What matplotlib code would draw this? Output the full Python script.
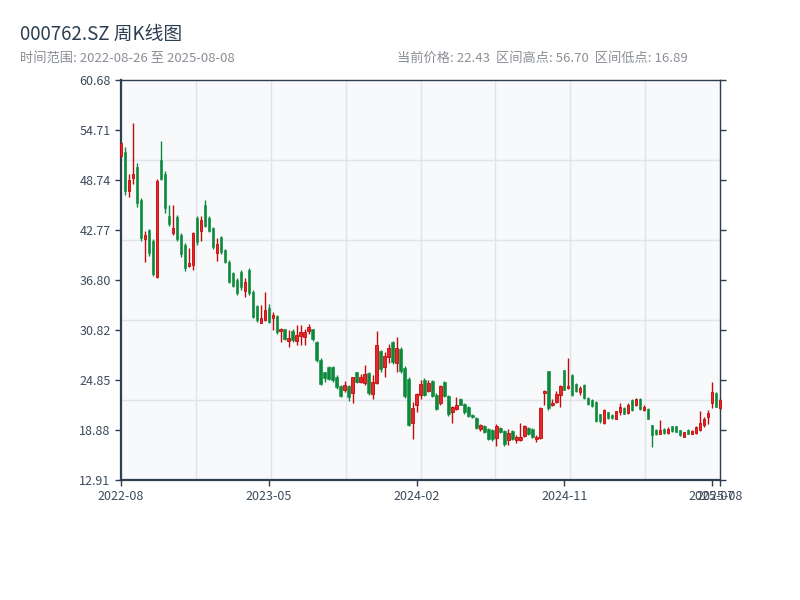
import matplotlib
matplotlib.use('Agg')
import matplotlib.pyplot as plt
import numpy as np
import pandas as pd

plt.rcParams['font.family'] = ['Noto Sans CJK SC', 'DejaVu Sans']

code = '000762.SZ'
start_date = '2022-08-26'
end_date = '2025-08-08'
last_price = 22.43
range_high = 56.70
range_low = 16.89

# weekly bars on Fridays; holiday weeks have no bar
holiday_weeks = ['2022-10-07', '2023-01-27', '2023-10-06', '2024-02-16']
weeks = pd.date_range(start_date, end_date, freq='W-FRI')
weeks = weeks[~weeks.isin(pd.to_datetime(holiday_weeks))]

opens = [51.6, 52.1, 47.4, 49.0, 50.3, 46.4, 41.7, 42.8, 41.5, 37.2,
         51.1, 49.5, 44.4, 42.4, 44.3, 42.2, 41.0, 38.5, 38.6, 44.2,
         42.7, 45.8, 44.2, 43.0, 40.0, 41.9, 40.4, 39.0, 37.6, 36.8,
         37.8, 35.5, 38.0, 35.4, 33.7, 31.7, 32.0, 33.5, 32.2, 32.5,
         30.7, 30.9, 29.55, 30.7, 29.55, 30.1, 30.0, 30.7, 30.9, 29.4,
         27.3, 25.8, 26.4, 26.4, 25.2, 24.1, 23.65, 24.1, 23.25, 25.8,
         24.6, 24.5, 25.7, 23.2, 24.45, 28.3, 26.35, 27.55, 29.4, 26.85,
         28.6, 26.3, 25.0, 19.7, 21.85, 23.05, 24.9, 23.55, 24.7, 23.1,
         22.05, 24.6, 22.9, 21.05, 21.35, 22.6, 22.0, 21.65, 20.7, 20.35,
         19.0, 19.4, 19.0, 18.9, 17.9, 19.15, 18.8, 17.7, 18.8, 17.7,
         17.7, 18.15, 19.1, 19.0, 17.75, 17.9, 23.25, 25.9, 21.85, 22.2,
         23.05, 26.0, 23.85, 25.4, 24.4, 23.45, 24.25, 22.7, 22.45, 22.25,
         20.75, 19.7, 21.0, 20.7, 20.25, 21.05, 21.55, 20.9, 22.5, 21.9,
         22.6, 21.25, 21.4, 19.45, 18.9, 18.4, 19.05, 18.5, 19.3, 19.3,
         18.85, 18.1, 18.9, 18.4, 18.5, 18.9, 19.5, 20.45, 22.05, 23.25,
         21.55]
highs = [53.3, 52.7, 49.5, 55.5, 50.8, 46.6, 42.6, 42.9, 41.7, 48.8,
         53.4, 49.8, 45.7, 45.8, 44.6, 42.4, 41.2, 40.6, 42.5, 44.4,
         44.4, 46.3, 44.4, 43.1, 41.8, 42.0, 40.5, 39.2, 37.7, 37.0,
         38.0, 37.0, 38.2, 35.6, 33.8, 33.8, 35.4, 33.9, 33.0, 32.6,
         31.1, 31.0, 30.8, 30.9, 31.4, 31.4, 31.0, 31.5, 31.0, 29.55,
         27.45, 25.85, 26.5, 26.5, 25.4, 24.25, 24.7, 24.25, 25.25, 25.85,
         25.6, 26.6, 25.85, 25.45, 30.7, 28.4, 28.2, 29.1, 29.55, 29.95,
         28.75, 26.5, 25.2, 22.2, 23.25, 24.85, 25.05, 24.85, 24.85, 23.25,
         24.25, 24.75, 23.05, 21.75, 22.85, 22.7, 22.1, 21.75, 20.75, 20.4,
         19.6, 19.5, 19.1, 19.0, 19.6, 19.2, 18.9, 19.0, 18.9, 18.3,
         19.7, 19.5, 19.2, 19.1, 18.3, 21.6, 23.65, 25.95, 22.55, 23.55,
         24.25, 26.1, 27.5, 25.55, 24.5, 24.15, 24.4, 22.8, 22.55, 22.35,
         20.85, 21.4, 21.05, 20.75, 21.2, 22.05, 21.6, 22.05, 22.55, 22.65,
         22.65, 21.85, 21.45, 19.5, 18.95, 20.05, 19.1, 19.2, 19.35, 19.35,
         18.9, 18.7, 18.95, 18.9, 19.35, 21.2, 20.45, 21.25, 24.65, 23.4,
         22.65]
lows = [51.5, 47.0, 46.7, 48.3, 45.5, 41.5, 39.0, 39.7, 37.3, 37.0,
        48.7, 44.8, 43.3, 42.2, 41.4, 39.6, 37.9, 38.3, 38.0, 41.0,
        41.4, 43.1, 42.5, 40.5, 39.1, 39.9, 38.8, 36.4, 35.9, 35.0,
        35.6, 34.8, 35.0, 32.2, 31.8, 31.6, 31.9, 31.6, 30.8, 30.4,
        29.4, 29.6, 28.8, 29.4, 29.0, 29.0, 29.0, 30.4, 29.55, 27.0,
        24.25, 24.65, 24.85, 24.65, 23.8, 22.85, 23.4, 22.3, 22.05, 24.5,
        24.5, 24.2, 23.05, 22.6, 24.4, 25.85, 25.25, 26.85, 26.8, 25.8,
        25.7, 22.75, 19.3, 17.85, 21.05, 22.6, 22.95, 23.45, 22.85, 21.25,
        21.85, 22.8, 20.6, 19.75, 21.3, 21.85, 20.85, 20.45, 20.35, 19.0,
        18.8, 18.55, 17.7, 17.6, 16.95, 18.55, 17.0, 17.1, 17.7, 17.35,
        17.6, 18.05, 18.3, 17.9, 17.5, 17.8, 21.85, 21.3, 21.8, 22.05,
        21.65, 23.6, 23.8, 22.95, 23.45, 23.05, 22.6, 21.85, 21.6, 19.85,
        19.75, 19.6, 20.25, 20.2, 20.2, 20.65, 20.75, 20.8, 21.2, 21.75,
        21.25, 21.2, 20.15, 16.9, 18.25, 18.35, 18.4, 18.4, 18.7, 18.6,
        18.2, 18.0, 18.35, 18.35, 18.4, 18.8, 19.2, 19.6, 21.45, 21.6,
        21.3]
closes = [53.1, 47.4, 48.7, 49.4, 46.0, 41.8, 42.2, 40.0, 37.5, 48.6,
          48.8, 45.4, 43.5, 43.0, 41.7, 39.9, 38.2, 38.8, 42.4, 41.3,
          44.0, 43.3, 42.6, 40.7, 41.1, 40.1, 39.0, 36.6, 36.1, 35.2,
          35.9, 36.6, 35.3, 32.4, 32.0, 32.3, 33.2, 31.8, 32.6, 30.6,
          31.0, 29.7, 29.85, 29.6, 30.2, 30.6, 30.6, 31.2, 29.7, 27.2,
          24.4, 25.1, 25.0, 24.8, 24.0, 23.0, 24.25, 22.8, 25.2, 24.6,
          25.2, 25.6, 23.3, 24.65, 29.0, 26.2, 27.7, 28.65, 27.0, 28.65,
          25.9, 23.0, 19.5, 21.45, 23.15, 24.4, 23.1, 24.5, 23.0, 21.4,
          24.15, 22.9, 20.8, 21.6, 21.85, 21.9, 21.0, 20.6, 20.4, 19.1,
          19.5, 18.65, 17.85, 17.75, 19.3, 18.65, 17.2, 18.5, 17.8, 18.1,
          18.1, 19.3, 18.4, 18.0, 18.1, 21.45, 23.55, 21.5, 22.15, 23.2,
          24.15, 23.7, 24.15, 23.1, 23.55, 23.85, 22.7, 21.95, 21.7, 20.0,
          19.9, 21.25, 20.35, 20.3, 21.15, 21.6, 20.85, 21.85, 21.3, 22.6,
          21.35, 21.6, 20.25, 18.3, 18.35, 18.85, 18.5, 19.05, 18.8, 18.7,
          18.3, 18.6, 18.45, 18.8, 19.2, 19.7, 20.25, 20.95, 23.45, 21.65,
          22.43]

o = np.array(opens)
h = np.array(highs)
l = np.array(lows)
c = np.array(closes)
n = len(o)
x = np.arange(n)

up_fill, up_edge = '#e8262a', '#c40a0a'
down_fill = '#0b8a3b'
dark = '#2d3e50'

fig = plt.figure(figsize=(8, 6), dpi=100)
ax = fig.add_axes([0.15125, 0.2, 0.74875, 0.66667])
ax.set_facecolor('#f7f9fb')

pad = (range_high - range_low) * 0.1
ymin, ymax = range_low - pad, range_high + pad
ax.set_ylim(ymin, ymax)
ax.set_xlim(0, n - 1)

# light grid in equal parts of the plot area
for f in [0.2, 0.4, 0.6, 0.8]:
    ax.plot([0, 1], [f, f], transform=ax.transAxes, color='#e1e5eb', lw=1, zorder=0)
for f in np.arange(1, 8) / 8:
    ax.plot([f, f], [0, 1], transform=ax.transAxes, color='#e1e5eb', lw=1, zorder=0)

up = c >= o
wick_colors = np.where(up, up_edge, down_fill)
ax.vlines(x, l, h, colors=wick_colors, linewidth=1.0, zorder=2, clip_on=False)
bottoms = np.minimum(o, c)
heights = np.maximum(np.abs(c - o), 0.08)
ax.bar(x[up], heights[up], bottom=bottoms[up], width=0.62, color=up_fill,
       edgecolor=up_edge, linewidth=0.6, zorder=3, clip_on=False)
ax.bar(x[~up], heights[~up], bottom=bottoms[~up], width=0.62, color=down_fill,
       edgecolor=down_fill, linewidth=0.4, zorder=3, clip_on=False)

yt = np.linspace(ymin, ymax, 9)
ax.set_yticks(yt)
ax.set_yticklabels([f'{v + 1e-9:.2f}' for v in yt])

xt = list(range(0, n, 37)) + [n - 1]
ax.set_xticks(xt)
ax.set_xticklabels([weeks[i].strftime('%Y-%m') for i in xt])

ax.tick_params(axis='both', direction='out', length=4, width=1, color=dark,
               labelcolor='#3d4b5c', labelsize=9)
ax.tick_params(axis='y', right=True)
for side in ['left', 'bottom']:
    ax.spines[side].set_color(dark)
    ax.spines[side].set_linewidth(1.6)
for side in ['top', 'right']:
    ax.spines[side].set_color(dark)
    ax.spines[side].set_linewidth(1.0)

fig.text(0.025, 0.942, f'{code} 周K线图', fontsize=13.5, color='#2c3e50', va='center')
fig.text(0.025, 0.903, f'时间范围: {start_date} 至 {end_date}', fontsize=9.5,
         color='#8a8f96', va='center')
fig.text(0.496, 0.903,
         f'当前价格: {last_price:.2f}  区间高点: {range_high:.2f}  区间低点: {range_low:.2f}',
         fontsize=9.5, color='#8a8f96', va='center')

fig.savefig('out.png', dpi=100, facecolor='white')
